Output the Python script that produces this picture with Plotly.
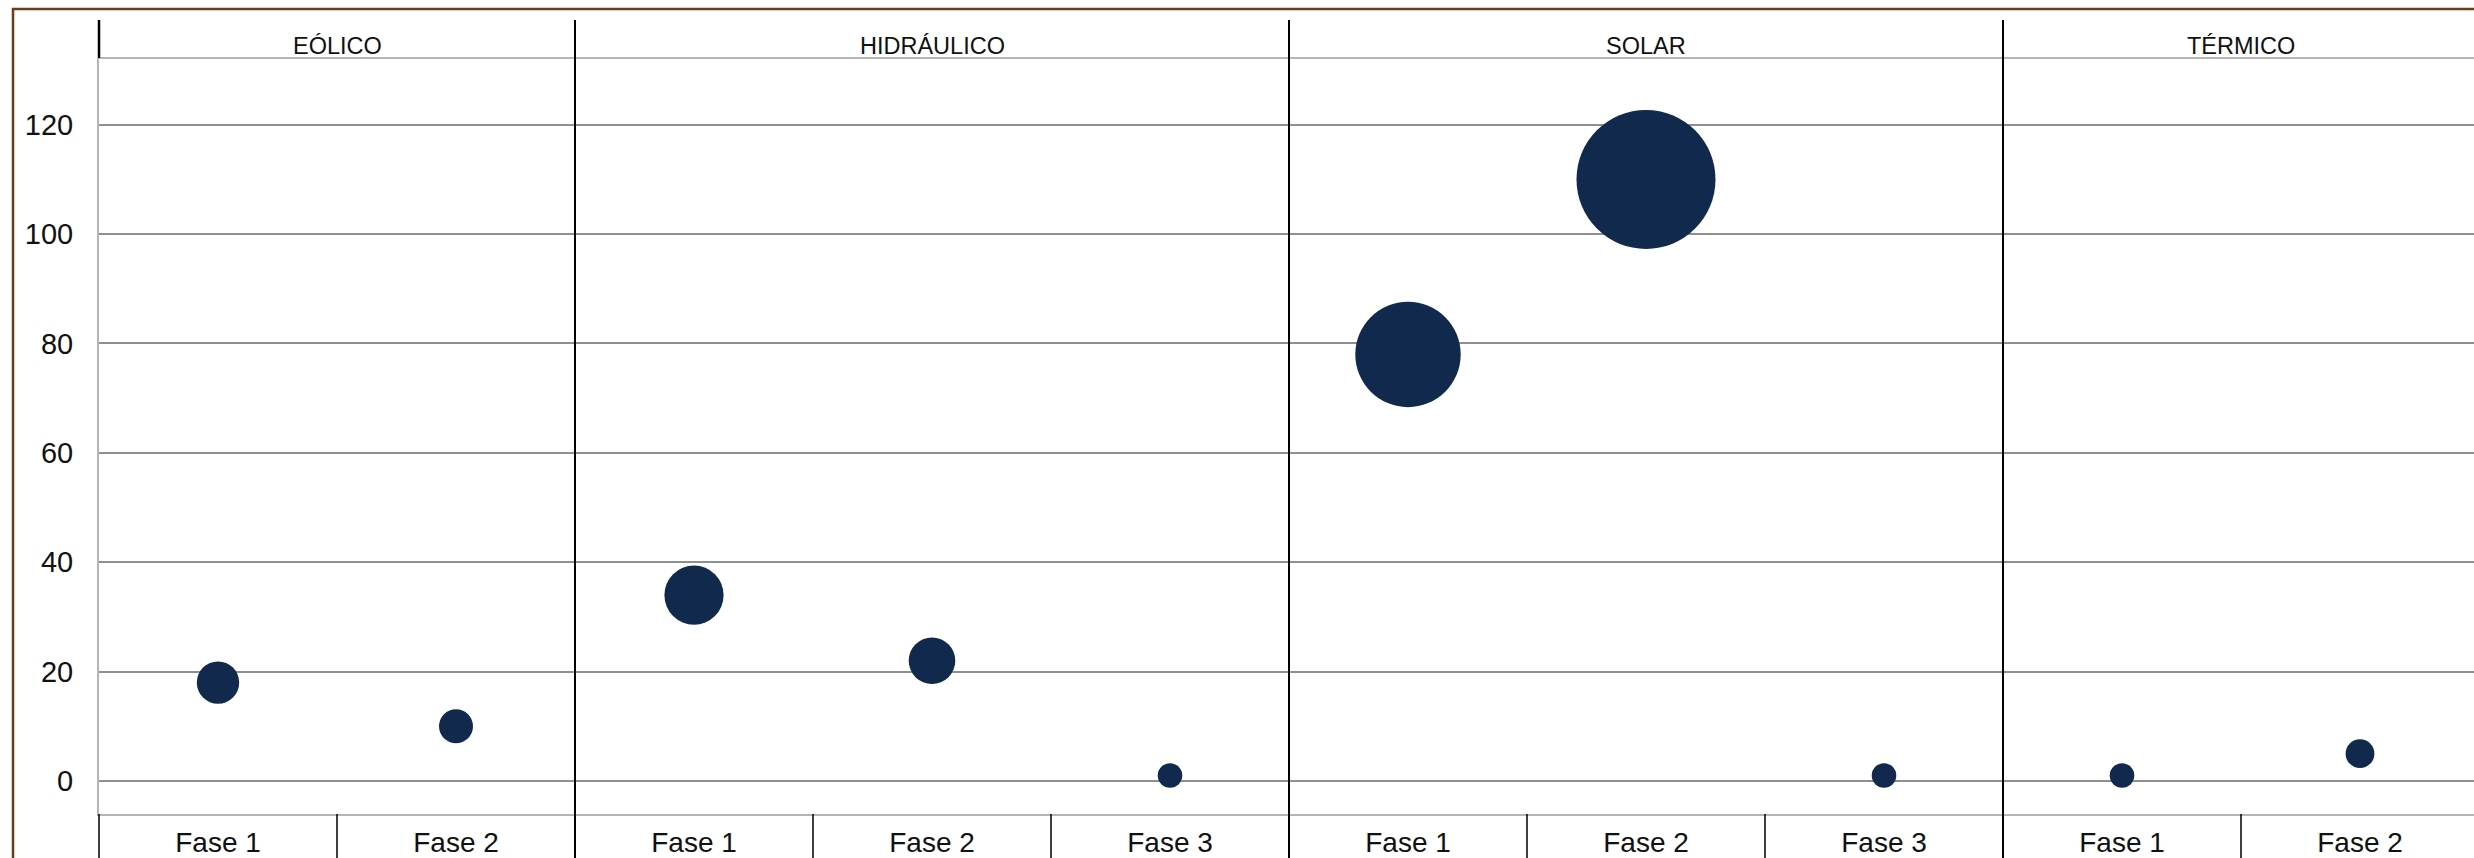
import plotly.graph_objects as go

# ---------------- data ----------------
groups = ["EÓLICO", "HIDRÁULICO", "SOLAR", "TÉRMICO"]
phases = [["Fase 1", "Fase 2"],
          ["Fase 1", "Fase 2", "Fase 3"],
          ["Fase 1", "Fase 2", "Fase 3"],
          ["Fase 1", "Fase 2"]]
values = [[18, 10],
          [34, 22, 1],
          [78, 110, 1],
          [1, 5]]
y_ticks = [0, 20, 40, 60, 80, 100, 120]

# ---------------- layout constants ----------------
W, H = 2474, 858
L, R, T, B = 99, 0, 58, 44
PW, PH = W - L - R, H - T - B
PHASE_PX = 238
XMIN = -0.5
XMAX = XMIN + PW / PHASE_PX
YMIN, YMAX = -6.03, 132.2

BUBBLE = "#11294D"
GRID = "#8f8f8f"
AXLINE = "#b5b5b5"
BORDER = "#6E3B15"
FONT = "Liberation Sans, Arial, sans-serif"


def xpaper(x):
    return (x - XMIN) / (XMAX - XMIN)


def ypix_paper(py):  # pixel y (from top) -> paper y
    return 1 - (py - T) / PH


def xpix_paper(px):
    return (px - L) / PW


# flatten
xs, ys, labels = [], [], []
i = 0
for g, (ph, vals) in enumerate(zip(phases, values)):
    for p, v in zip(ph, vals):
        xs.append(i)
        ys.append(v)
        labels.append(p)
        i += 1

sizes = [23.5 + 1.05 * v for v in ys]

fig = go.Figure()
fig.add_trace(go.Scatter(
    x=xs, y=ys, mode="markers",
    marker=dict(size=sizes, sizemode="diameter", color=BUBBLE, line=dict(width=0), opacity=1),
    hoverinfo="x+y", showlegend=False, cliponaxis=False,
))

shapes = []
# outer brown frame
shapes.append(dict(type="rect", xref="paper", yref="paper",
                   x0=xpix_paper(13), x1=xpix_paper(W + 50),
                   y0=ypix_paper(H + 50), y1=ypix_paper(9),
                   line=dict(color=BORDER, width=2.5), fillcolor="rgba(0,0,0,0)", layer="above"))
# header line at top of plot
shapes.append(dict(type="line", xref="paper", yref="paper", x0=0, x1=1, y0=1, y1=1,
                   line=dict(color=AXLINE, width=2)))

top_y = ypix_paper(20)
bot_y = ypix_paper(H + 20)

start = 0
annotations = []
for g, ph in enumerate(phases):
    n = len(ph)
    left = start - 0.5
    if g == 0:
        shapes.append(dict(type="line", xref="paper", yref="paper",
                           x0=xpaper(left), x1=xpaper(left), y0=1, y1=top_y,
                           line=dict(color="black", width=2.5)))
        shapes.append(dict(type="line", xref="paper", yref="paper",
                           x0=xpaper(left), x1=xpaper(left), y0=0, y1=bot_y,
                           line=dict(color="black", width=1.5)))
    else:
        shapes.append(dict(type="line", xref="paper", yref="paper",
                           x0=xpaper(left), x1=xpaper(left), y0=bot_y, y1=top_y,
                           line=dict(color="black", width=2)))
    for k in range(1, n):
        b = start + k - 0.5
        shapes.append(dict(type="line", xref="paper", yref="paper",
                           x0=xpaper(b), x1=xpaper(b), y0=0, y1=bot_y,
                           line=dict(color="black", width=1.5)))
    center = start + (n - 1) / 2
    annotations.append(dict(x=center, xref="x", y=1, yref="paper",
                            yanchor="bottom", xanchor="center", showarrow=False,
                            text=groups[g], yshift=-3,
                            font=dict(family=FONT, size=23.5, color="#111111")))
    start += n

fig.update_layout(
    width=W, height=H, autosize=False,
    margin=dict(l=L, r=R, t=T, b=B, pad=0),
    paper_bgcolor="white", plot_bgcolor="white",
    shapes=shapes, annotations=annotations,
    font=dict(family=FONT, color="#111111"),
    xaxis=dict(range=[XMIN, XMAX], tickmode="array", tickvals=xs, ticktext=labels,
               showgrid=False, zeroline=False, showline=True, linecolor=AXLINE, linewidth=2,
               ticks="", tickfont=dict(family=FONT, size=28, color="#111111"),
               ticklabelstandoff=2, automargin=False, fixedrange=True),
    yaxis=dict(range=[YMIN, YMAX], tickmode="array", tickvals=y_ticks,
               ticktext=[str(t) for t in y_ticks],
               showgrid=True, gridcolor=GRID, gridwidth=1.5, zeroline=False,
               showline=True, linecolor=AXLINE, linewidth=2, ticks="",
               tickfont=dict(family=FONT, size=29, color="#111111"),
               ticklabelstandoff=18, automargin=False, fixedrange=True),
)

fig.write_html("out.html", config={"displayModeBar": False},
               post_script="document.body.style.margin='0';document.body.style.overflow='hidden';")
